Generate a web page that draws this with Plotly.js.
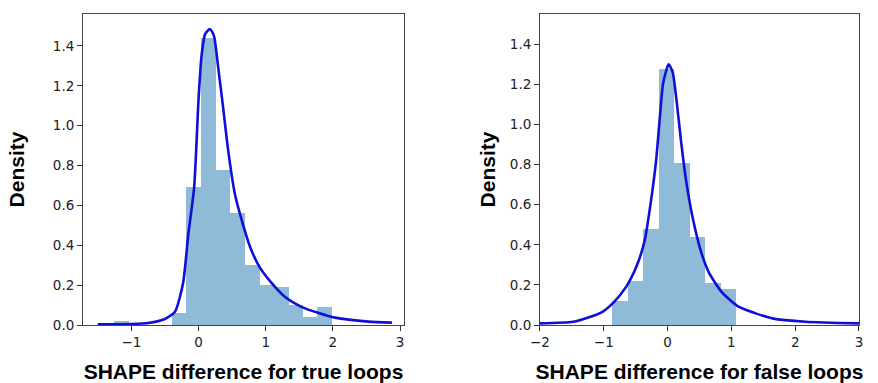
<!DOCTYPE html>
<html>
<head>
<meta charset="utf-8">
<script src="https://cdn.plot.ly/plotly-3.0.1.min.js"></script>
<style>html,body{margin:0;padding:0;background:#fff;}#chart{width:878px;height:383px;}</style>
</head>
<body>
<div id="chart"></div>
<script>
// ---- Data ----
// Left panel: true loops
const trueBinEdges = [-1.26, -1.04, -0.83, -0.61, -0.39, -0.18, 0.04, 0.26, 0.47, 0.69, 0.91, 1.12, 1.34, 1.56, 1.77, 1.99];
const trueDensity  = [0.02, 0, 0, 0, 0.06, 0.69, 1.44, 0.78, 0.56, 0.30, 0.20, 0.19, 0.10, 0.04, 0.09];
const trueCurveX = [-1.50, -1.25, -1.00, -0.75, -0.50, -0.35, -0.23, -0.15, -0.065, 0.00, 0.045, 0.10, 0.17, 0.23, 0.29, 0.37, 0.44, 0.54, 0.64, 0.77, 0.91, 1.04, 1.29, 1.54, 1.79, 2.03, 2.53, 2.88];
const trueCurveY = [0.004, 0.004, 0.005, 0.01, 0.03, 0.067, 0.21, 0.46, 0.69, 1.13, 1.35, 1.46, 1.485, 1.45, 1.30, 1.08, 0.88, 0.66, 0.53, 0.39, 0.29, 0.23, 0.14, 0.09, 0.06, 0.037, 0.017, 0.012];

// Right panel: false loops
const falseBinEdges = [-0.87, -0.627, -0.384, -0.141, 0.102, 0.345, 0.588, 0.831, 1.074];
const falseDensity  = [0.12, 0.22, 0.48, 1.275, 0.81, 0.44, 0.21, 0.18];
const falseCurveX = [-2.0, -1.48, -1.22, -1.02, -0.86, -0.65, -0.49, -0.36, -0.26, -0.18, -0.12, -0.07, 0.016, 0.08, 0.14, 0.21, 0.29, 0.39, 0.52, 0.65, 0.86, 1.12, 1.38, 1.64, 2.16, 3.0];
const falseCurveY = [0.008, 0.016, 0.04, 0.066, 0.108, 0.19, 0.29, 0.42, 0.62, 0.82, 1.04, 1.205, 1.30, 1.26, 1.12, 0.92, 0.72, 0.54, 0.37, 0.26, 0.16, 0.09, 0.058, 0.033, 0.016, 0.008];

const yTickVals = [0, 0.2, 0.4, 0.6, 0.8, 1.0, 1.2, 1.4];
const xTickVals = [-2, -1, 0, 1, 2, 3];

const xTitleLeft = 'SHAPE difference for true loops';
const xTitleRight = 'SHAPE difference for false loops';
const yTitle = 'Density';

// ---- Build traces ----
function barTrace(edges, vals, xa, ya) {
  const centers = [], widths = [];
  for (let i = 0; i < vals.length; i++) {
    centers.push((edges[i] + edges[i + 1]) / 2);
    widths.push(edges[i + 1] - edges[i]);
  }
  return {
    type: 'bar', x: centers, y: vals, width: widths,
    marker: {color: 'rgba(31,119,180,0.5)', line: {width: 0}},
    xaxis: xa, yaxis: ya, hoverinfo: 'x+y', showlegend: false
  };
}
function lineTrace(xs, ys, xa, ya) {
  return {
    type: 'scatter', mode: 'lines', x: xs, y: ys,
    line: {color: 'rgb(15,15,215)', width: 2.6, shape: 'spline', smoothing: 0.6},
    xaxis: xa, yaxis: ya, showlegend: false
  };
}

const data = [
  barTrace(trueBinEdges, trueDensity, 'x', 'y'),
  lineTrace(trueCurveX, trueCurveY, 'x', 'y'),
  barTrace(falseBinEdges, falseDensity, 'x2', 'y2'),
  lineTrace(falseCurveX, falseCurveY, 'x2', 'y2')
];

const tickFont = {family: 'DejaVu Sans', size: 13.5, color: '#222'};
const titleFont = {family: 'Liberation Sans, Arial', size: 21, color: '#000', weight: 'bold'};

function xAxis(range, domain, title, anchor) {
  return {
    domain: domain, range: range, anchor: anchor,
    tickvals: xTickVals, ticks: 'outside', ticklen: 5, tickwidth: 1, tickcolor: '#333',
    showline: true, linecolor: '#444', linewidth: 1, mirror: true,
    showgrid: false, zeroline: false, tickfont: tickFont,
    title: {text: '<b>' + title + '</b>', font: titleFont, standoff: 16}
  };
}
function yAxis(range, title, anchor, standoff) {
  return {
    domain: [0, 1], range: range, anchor: anchor,
    tickvals: yTickVals, tickformat: '.1f', ticks: 'outside', ticklen: 5, tickwidth: 1, tickcolor: '#333',
    showline: true, linecolor: '#444', linewidth: 1, mirror: true,
    showgrid: false, zeroline: false, tickfont: tickFont,
    title: {text: '<b>' + title + '</b>', font: titleFont, standoff: standoff}
  };
}

const layout = {
  width: 878, height: 383,
  margin: {l: 83, r: 19, t: 14, b: 58},
  paper_bgcolor: '#fff', plot_bgcolor: '#fff',
  bargap: 0,
  xaxis: xAxis([-1.72, 3.06], [0, 0.4137], xTitleLeft, 'y'),
  yaxis: yAxis([0, 1.56], yTitle, 'x', 22),
  xaxis2: xAxis([-2, 3], [0.5889, 1.0], xTitleRight, 'y2'),
  yaxis2: yAxis([0, 1.551], yTitle, 'x2', 8),
  showlegend: false
};

Plotly.newPlot('chart', data, layout, {displayModeBar: false, staticPlot: true});
</script>
</body>
</html>
